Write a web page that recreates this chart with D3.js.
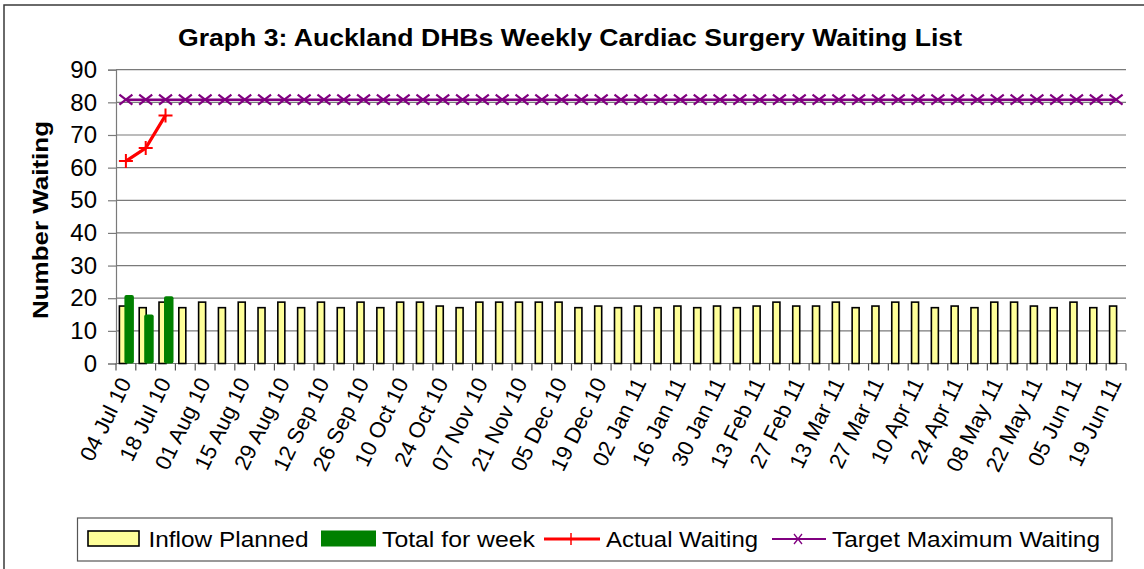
<!DOCTYPE html>
<html>
<head>
<meta charset="utf-8">
<script src="https://cdn.jsdelivr.net/npm/d3@7"></script>
<style>
  html, body { margin: 0; padding: 0; background: #fff; }
  svg { display: block; }
  text { font-family: "Liberation Sans", Arial, sans-serif; fill: #000; }
</style>
</head>
<body>
<svg id="chart" width="1144" height="569"></svg>
<script>
// ---------------- DATA ----------------
const weeks = [
  "04 Jul 10","11 Jul 10","18 Jul 10","25 Jul 10","01 Aug 10","08 Aug 10","15 Aug 10","22 Aug 10","29 Aug 10",
  "05 Sep 10","12 Sep 10","19 Sep 10","26 Sep 10","03 Oct 10","10 Oct 10","17 Oct 10","24 Oct 10","31 Oct 10",
  "07 Nov 10","14 Nov 10","21 Nov 10","28 Nov 10","05 Dec 10","12 Dec 10","19 Dec 10","26 Dec 10",
  "02 Jan 11","09 Jan 11","16 Jan 11","23 Jan 11","30 Jan 11","06 Feb 11","13 Feb 11","20 Feb 11","27 Feb 11",
  "06 Mar 11","13 Mar 11","20 Mar 11","27 Mar 11","03 Apr 11","10 Apr 11","17 Apr 11","24 Apr 11",
  "01 May 11","08 May 11","15 May 11","22 May 11","29 May 11","05 Jun 11","12 Jun 11","19 Jun 11"
];
const inflowPlanned = [
  17.6,17.1,18.8,17.1,18.8,17.1,18.8,17.1,18.8,17.1,18.8,17.1,18.8,17.1,18.8,18.8,17.6,17.1,
  18.8,18.8,18.8,18.8,18.8,17.1,17.6,17.1,17.6,17.1,17.6,17.1,17.6,17.1,17.6,18.8,17.6,17.6,
  18.8,17.1,17.6,18.8,18.8,17.1,17.6,17.1,18.8,18.8,17.6,17.1,18.8,17.1,17.6
];
const totalForWeek = [21, 15, 20.6];
const actualWaiting = [62, 66, 76];
const targetMaxWaiting = [
  80.8,80.8,80.8,80.8,80.8,80.8,80.8,80.8,80.8,80.8,80.8,80.8,80.8,80.8,80.8,80.8,80.8,80.8,80.8,80.8,80.8,80.8,80.8,80.8,80.8,80.8,
  80.8,80.8,80.8,80.8,80.8,80.8,80.8,80.8,80.8,80.8,80.8,80.8,80.8,80.8,80.8,80.8,80.8,80.8,80.8,80.8,80.8,80.8,80.8,80.8,80.8
];
const yTicks = [0,10,20,30,40,50,60,70,80,90];
const seriesNames = ["Inflow Planned","Total for week","Actual Waiting","Target Maximum Waiting"];
const titleText = "Graph 3: Auckland DHBs Weekly Cardiac Surgery Waiting List";
const yTitle = "Number Waiting";

// ---------------- LAYOUT ----------------
const svg = d3.select("#chart");
const plot = { left: 116, right: 1126, top: 69.7, bottom: 363.5 };

const x = d3.scaleBand().domain(weeks).range([plot.left, plot.right]).paddingInner(0).paddingOuter(0);
const y = d3.scaleLinear().domain([0, 90]).range([plot.bottom, plot.top]);
const cx = d => x(d) + x.bandwidth() / 2;

// outer chart border (right/bottom lie outside the picture)
svg.append("rect").attr("x", 4).attr("y", 5).attr("width", 1160).attr("height", 600)
  .attr("fill", "none").attr("stroke", "#3a3a3a").attr("stroke-width", 1.5);

// title
svg.append("text").attr("x", 570).attr("y", 46).attr("text-anchor", "middle")
  .attr("font-size", 23).attr("font-weight", "bold")
  .attr("textLength", 784).attr("lengthAdjust", "spacingAndGlyphs")
  .text(titleText);

// gridlines
svg.append("g").selectAll("line").data(yTicks.filter(t => t > 0)).join("line")
  .attr("x1", plot.left).attr("x2", plot.right)
  .attr("y1", d => y(d)).attr("y2", d => y(d))
  .attr("stroke", "#7a7a7a").attr("stroke-width", 1.2);

// y axis
const yAxis = d3.axisLeft(y).tickValues(yTicks).tickSize(8).tickPadding(11).tickFormat(d3.format("d"));
const gy = svg.append("g").attr("transform", `translate(${plot.left},0)`).call(yAxis);
gy.select(".domain").attr("stroke", "#7a7a7a").attr("stroke-width", 1.2);
gy.selectAll(".tick line").attr("stroke", "#7a7a7a").attr("stroke-width", 1.2);
gy.selectAll(".tick text").attr("font-size", 24).attr("font-family", "Liberation Sans, Arial, sans-serif").attr("fill", "#000");

// y title
svg.append("text").attr("transform", `translate(48,220) rotate(-90)`)
  .attr("text-anchor", "middle").attr("font-size", 22).attr("font-weight", "bold")
  .attr("textLength", 198).attr("lengthAdjust", "spacingAndGlyphs")
  .text(yTitle);

// x axis (ticks at category boundaries)
const gx = svg.append("g");
gx.append("line").attr("x1", plot.left).attr("x2", plot.right)
  .attr("y1", plot.bottom).attr("y2", plot.bottom)
  .attr("stroke", "#7a7a7a").attr("stroke-width", 1.2);
const boundaries = weeks.map(w => x(w)).concat([plot.right]);
gx.selectAll("line.tk").data(boundaries).join("line").attr("class", "tk")
  .attr("x1", d => d).attr("x2", d => d)
  .attr("y1", plot.bottom).attr("y2", plot.bottom + 7)
  .attr("stroke", "#555").attr("stroke-width", 1.2);
gx.selectAll("text").data(weeks.filter((w, i) => i % 2 === 0)).join("text")
  .attr("transform", d => `translate(${cx(d) + 6},${plot.bottom + 19}) rotate(-64)`)
  .attr("text-anchor", "end").attr("font-size", 22)
  .text(d => d);

// bars: inflow planned (yellow), then total for week (green) on top
svg.append("g").selectAll("rect").data(weeks).join("rect")
  .attr("x", d => cx(d) - 6.5).attr("width", 7)
  .attr("y", (d, i) => y(inflowPlanned[i]))
  .attr("height", (d, i) => y(0) - y(inflowPlanned[i]))
  .attr("fill", "#FFFF99").attr("stroke", "#000").attr("stroke-width", 1.6);

svg.append("g").selectAll("rect").data(totalForWeek).join("rect")
  .attr("x", (d, i) => cx(weeks[i]) - 1.5).attr("width", 9.5)
  .attr("y", d => y(d)).attr("height", d => y(0) - y(d))
  .attr("rx", 2)
  .attr("fill", "#008000");

// target maximum waiting line
const line = d3.line().x((d, i) => cx(weeks[i])).y(d => y(d));
svg.append("path").datum(targetMaxWaiting).attr("d", line)
  .attr("fill", "none").attr("stroke", "#800080").attr("stroke-width", 2.5);
svg.append("g").selectAll("path").data(targetMaxWaiting).join("path")
  .attr("transform", (d, i) => `translate(${cx(weeks[i])},${y(d)})`)
  .attr("d", "M-6.5,-5L6.5,5M-6.5,5L6.5,-5")
  .attr("stroke", "#800080").attr("stroke-width", 2.2).attr("fill", "none");

// actual waiting line
svg.append("path").datum(actualWaiting).attr("d", line)
  .attr("fill", "none").attr("stroke", "#FF0000").attr("stroke-width", 3.2);
svg.append("g").selectAll("path").data(actualWaiting).join("path")
  .attr("transform", (d, i) => `translate(${cx(weeks[i])},${y(d)})`)
  .attr("d", "M-7,0L7,0M0,-7L0,7")
  .attr("stroke", "#FF0000").attr("stroke-width", 2).attr("fill", "none");

// legend
const lg = svg.append("g");
lg.append("rect").attr("x", 77.5).attr("y", 518).attr("width", 1034.5).attr("height", 43)
  .attr("fill", "#fff").attr("stroke", "#555").attr("stroke-width", 1.2);
const baseY = 547;
// inflow swatch
lg.append("rect").attr("x", 88).attr("y", 531).attr("width", 51).attr("height", 15)
  .attr("fill", "#FFFF99").attr("stroke", "#000").attr("stroke-width", 1.6);
lg.append("text").attr("x", 148.5).attr("y", baseY).attr("font-size", 22)
  .attr("textLength", 160).attr("lengthAdjust", "spacingAndGlyphs").text(seriesNames[0]);
// total swatch
lg.append("rect").attr("x", 321).attr("y", 530.5).attr("width", 55).attr("height", 16)
  .attr("fill", "#008000");
lg.append("text").attr("x", 382).attr("y", baseY).attr("font-size", 22)
  .attr("textLength", 153).attr("lengthAdjust", "spacingAndGlyphs").text(seriesNames[1]);
// actual line sample
lg.append("line").attr("x1", 544).attr("x2", 600).attr("y1", 539).attr("y2", 539)
  .attr("stroke", "#FF0000").attr("stroke-width", 3);
lg.append("path").attr("d", "M571,533L571,545").attr("stroke", "#FF0000").attr("stroke-width", 1.5);
lg.append("text").attr("x", 606).attr("y", baseY).attr("font-size", 22)
  .attr("textLength", 152).attr("lengthAdjust", "spacingAndGlyphs").text(seriesNames[2]);
// target line sample
lg.append("line").attr("x1", 772).attr("x2", 826).attr("y1", 539).attr("y2", 539)
  .attr("stroke", "#800080").attr("stroke-width", 2);
lg.append("path").attr("d", "M794,534L802,544M794,544L802,534").attr("stroke", "#800080").attr("stroke-width", 1.3);
lg.append("text").attr("x", 832).attr("y", baseY).attr("font-size", 22)
  .attr("textLength", 268).attr("lengthAdjust", "spacingAndGlyphs").text(seriesNames[3]);
</script>
</body>
</html>
